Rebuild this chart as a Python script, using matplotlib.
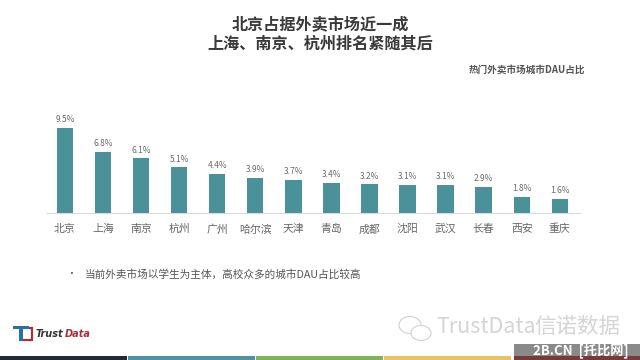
import matplotlib
matplotlib.use('Agg')
import matplotlib.pyplot as plt
from matplotlib.patches import Rectangle, Ellipse

plt.rcParams['font.family'] = ['Noto Sans CJK SC', 'DejaVu Sans']

cities = ['北京', '上海', '南京', '杭州', '广州', '哈尔滨', '天津', '青岛', '成都', '沈阳', '武汉', '长春', '西安', '重庆']
shares = [9.5, 6.8, 6.1, 5.1, 4.4, 3.9, 3.7, 3.4, 3.2, 3.1, 3.1, 2.9, 1.8, 1.6]
footer_colors = ['#1f2a3a', '#4f93a3', '#82b35a', '#e8c268']

W, H = 640, 360
fig = plt.figure(figsize=(W / 100, H / 100), dpi=100, facecolor='white')

# axes placed in pixels so the baseline sits at y=213
ax = fig.add_axes([47 / W, 1 - 213 / H, 533 / W, 100 / H])
ax.bar(range(len(cities)), shares, width=0.43, color='#4a9199')
for i, v in enumerate(shares):
    ax.text(i, v + 0.42, f'{v}%', ha='center', va='bottom', fontsize=6, color='#6a6a6a')
ax.set_xlim(-0.47, 13.53)
ax.set_ylim(0, 100 / 8.95)
ax.set_xticks(range(len(cities)))
ax.set_xticklabels(cities, fontsize=7.8, color='#666666')
ax.tick_params(axis='x', length=0, pad=8)
ax.set_yticks([])
for s in ['top', 'left', 'right']:
    ax.spines[s].set_visible(False)
ax.spines['bottom'].set_color('#d9d9d9')
ax.spines['bottom'].set_linewidth(0.8)
ax.patch.set_alpha(0)


def px_text(x, y, s, **kw):
    fig.text(x / W, 1 - y / H, s, **kw)


def px_rect(x0, y0, x1, y1, **kw):
    fig.add_artist(Rectangle((x0 / W, 1 - y1 / H), (x1 - x0) / W, (y1 - y0) / H, transform=fig.transFigure, **kw))


def px_ell(x, y, w, h, **kw):
    fig.add_artist(Ellipse((x / W, 1 - y / H), w / W, h / H, transform=fig.transFigure, **kw))


px_text(320, 25, '北京占据外卖市场近一成', ha='center', va='center', fontsize=11.6, fontweight='bold', color='#3a3a3a')
px_text(320, 44, '上海、南京、杭州排名紧随其后', ha='center', va='center', fontsize=11.6, fontweight='bold', color='#3a3a3a')
px_text(585, 70, '热门外卖市场城市DAU占比', ha='right', va='center', fontsize=6.9, fontweight='bold', color='#555555')
px_text(71, 274, '•', ha='center', va='center', fontsize=7, color='#555555')
px_text(85, 274, '当前外卖市场以学生为主体，高校众多的城市DAU占比较高', ha='left', va='center', fontsize=7.7, color='#555555')

# logo
px_rect(21, 328, 32, 340, fc='none', ec='#a8323a', lw=1.6)
px_rect(13, 326, 29, 329, fc='#2f6f9f', ec='none')
px_rect(19, 326, 23, 341, fc='#2f6f9f', ec='none')
px_text(36, 334, 'Trust', ha='left', va='center', fontsize=7, fontweight='bold', fontstyle='italic', color='#333333', family='DejaVu Sans')
px_text(65, 334, 'Data', ha='left', va='center', fontsize=7, fontweight='bold', fontstyle='italic', color='#a8323a', family='DejaVu Sans')

# watermark
px_ell(410, 325, 22, 17, fc='white', ec='#d5d5d5', lw=0.9)
px_ell(421, 333, 20, 15, fc='white', ec='#d5d5d5', lw=0.9)
px_text(436, 327, 'TrustData', ha='left', va='center', fontsize=15.5, color='#d5d5d5', fontweight='light')
px_text(620, 327, '信诺数据', ha='right', va='center', fontsize=15.5, color='#d5d5d5', fontweight='light')

# footer strip
for i, c in enumerate(footer_colors):
    px_rect(i * 128, 356, i * 128 + 127, 360, fc=c, ec='none')
px_rect(514, 344, 640, 360, fc='#8a8a8a', ec='none')
px_rect(514, 356, 640, 360, fc='#7a3a36', ec='none')
px_text(581, 351, '2B.CN  [托比网]', ha='center', va='center', fontsize=9.5, fontweight='bold', color='white')

fig.savefig('out.png', dpi=100)
